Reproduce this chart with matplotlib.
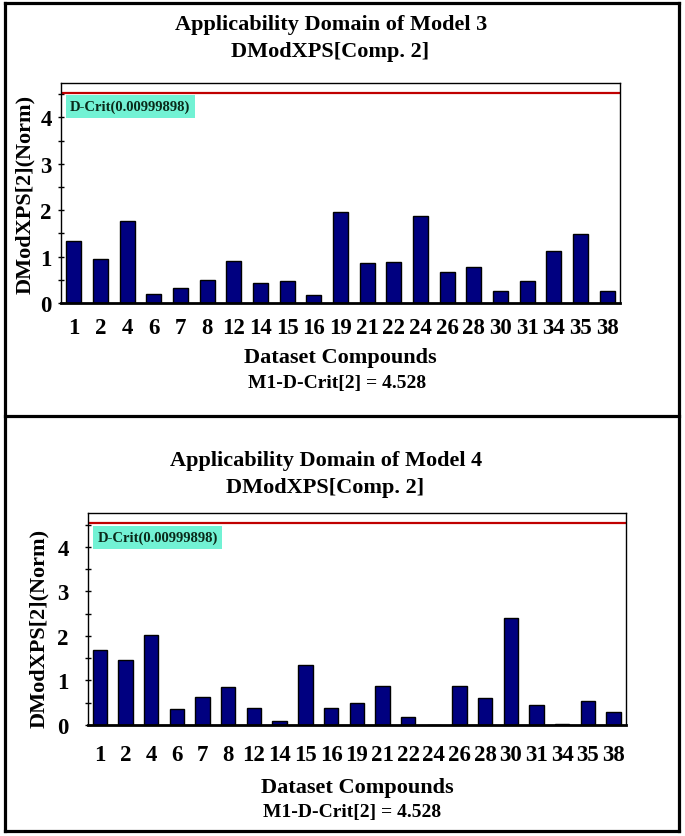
import matplotlib
matplotlib.use('Agg')
import matplotlib.pyplot as plt
from matplotlib.lines import Line2D
from matplotlib.ticker import MultipleLocator

# data
compounds = ['1', '2', '4', '6', '7', '8', '12', '14', '15', '16', '19',
             '21', '22', '24', '26', '28', '30', '31', '34', '35', '38']
dmodx_model3 = [1.33, 0.95, 1.77, 0.20, 0.33, 0.50, 0.90, 0.43, 0.47, 0.17, 1.96,
                0.86, 0.88, 1.87, 0.67, 0.78, 0.26, 0.47, 1.11, 1.49, 0.25]
dmodx_model4 = [1.69, 1.47, 2.01, 0.36, 0.62, 0.86, 0.39, 0.10, 1.35, 0.39, 0.49,
                0.88, 0.19, 0.005, 0.88, 0.61, 2.40, 0.46, 0.03, 0.54, 0.30]
d_crit = 4.528
d_crit_label = 'D-Crit(0.00999898)'
footer = 'M1-D-Crit[2] = 4.528'

plt.rcParams['font.family'] = ['Liberation Serif', 'DejaVu Serif']
plt.rcParams['font.weight'] = 'bold'

W, H = 685, 837


def fx(px):
    return px / W


def fy(py):
    return 1 - py / H


def draw_panel(fig, rect, values, xtick_pad, ytick_pad, ylim_top, box_xy):
    """ One bar panel with the D-Crit line """

    ax = fig.add_axes(rect)
    x = range(len(compounds))
    ax.bar(x, values, width=0.56, color='#000080', edgecolor='black', linewidth=1)
    ax.axhline(d_crit, color='#c00000', linewidth=1.6)

    ax.set_xlim(-0.48, len(compounds) - 0.52)
    ax.set_ylim(0, ylim_top)
    ax.set_xticks(list(x))
    ax.set_xticklabels(compounds)
    ax.yaxis.set_major_locator(MultipleLocator(1))
    ax.yaxis.set_minor_locator(MultipleLocator(0.5))
    ax.tick_params(axis='x', length=0, pad=xtick_pad, labelsize=16.5)
    ax.tick_params(axis='y', which='major', direction='inout', length=5,
                   width=1, pad=ytick_pad, labelsize=16.5)
    ax.tick_params(axis='y', which='minor', direction='inout', length=4, width=1)
    for lab in ax.get_xticklabels() + ax.get_yticklabels():
        lab.set_fontweight('bold')

    for side in ['top', 'right', 'left']:
        ax.spines[side].set_linewidth(1)
    ax.spines['bottom'].set_linewidth(2)

    ax.text(box_xy[0], box_xy[1], d_crit_label, transform=ax.transAxes,
            ha='left', va='center', fontsize=10.5, fontweight='bold', color='#0a2a1a',
            bbox=dict(boxstyle='square,pad=0.3', facecolor='#72F2D4', edgecolor='none'))
    return ax


fig = plt.figure(figsize=(W / 100, H / 100), dpi=100)

# top panel (model 3)
draw_panel(fig, [fx(61), fy(304), fx(620) - fx(61), fy(84) - fy(304)],
           dmodx_model3, xtick_pad=10, ytick_pad=4, ylim_top=4.74, box_xy=(0.016, 0.893))
fig.text(fx(331), fy(25), 'Applicability Domain of Model 3', ha='center', va='center',
         fontsize=16, fontweight='bold')
fig.text(fx(330), fy(52), 'DModXPS[Comp. 2]', ha='center', va='center',
         fontsize=16, fontweight='bold')
fig.text(fx(25), fy(194), 'DModXPS[2](Norm)', rotation=90, ha='center', va='center',
         fontsize=16, fontweight='bold')
fig.text(fx(340), fy(358), 'Dataset Compounds', ha='center', va='center',
         fontsize=16, fontweight='bold')
fig.text(fx(337), fy(384), footer, ha='center', va='center',
         fontsize=14, fontweight='bold')

# bottom panel (model 4)
draw_panel(fig, [fx(87.5), fy(726), fx(626) - fx(87.5), fy(514) - fy(726)],
           dmodx_model4, xtick_pad=14, ytick_pad=11, ylim_top=4.76, box_xy=(0.019, 0.884))
fig.text(fx(326), fy(461), 'Applicability Domain of Model 4', ha='center', va='center',
         fontsize=16, fontweight='bold')
fig.text(fx(325), fy(488), 'DModXPS[Comp. 2]', ha='center', va='center',
         fontsize=16, fontweight='bold')
fig.text(fx(39), fy(628), 'DModXPS[2](Norm)', rotation=90, ha='center', va='center',
         fontsize=16, fontweight='bold')
fig.text(fx(357), fy(788), 'Dataset Compounds', ha='center', va='center',
         fontsize=16, fontweight='bold')
fig.text(fx(352), fy(813), footer, ha='center', va='center',
         fontsize=14, fontweight='bold')

# outer frame and divider
lw = 2.3
for xs, ys in [([5, 679], [4, 4]), ([5, 679], [832, 832]), ([5, 5], [4, 832]),
               ([679, 679], [4, 832]), ([5, 679], [417, 417])]:
    fig.add_artist(Line2D([fx(v) for v in xs], [fy(v) for v in ys],
                          color='black', linewidth=lw))

fig.savefig('out.png', dpi=100)
